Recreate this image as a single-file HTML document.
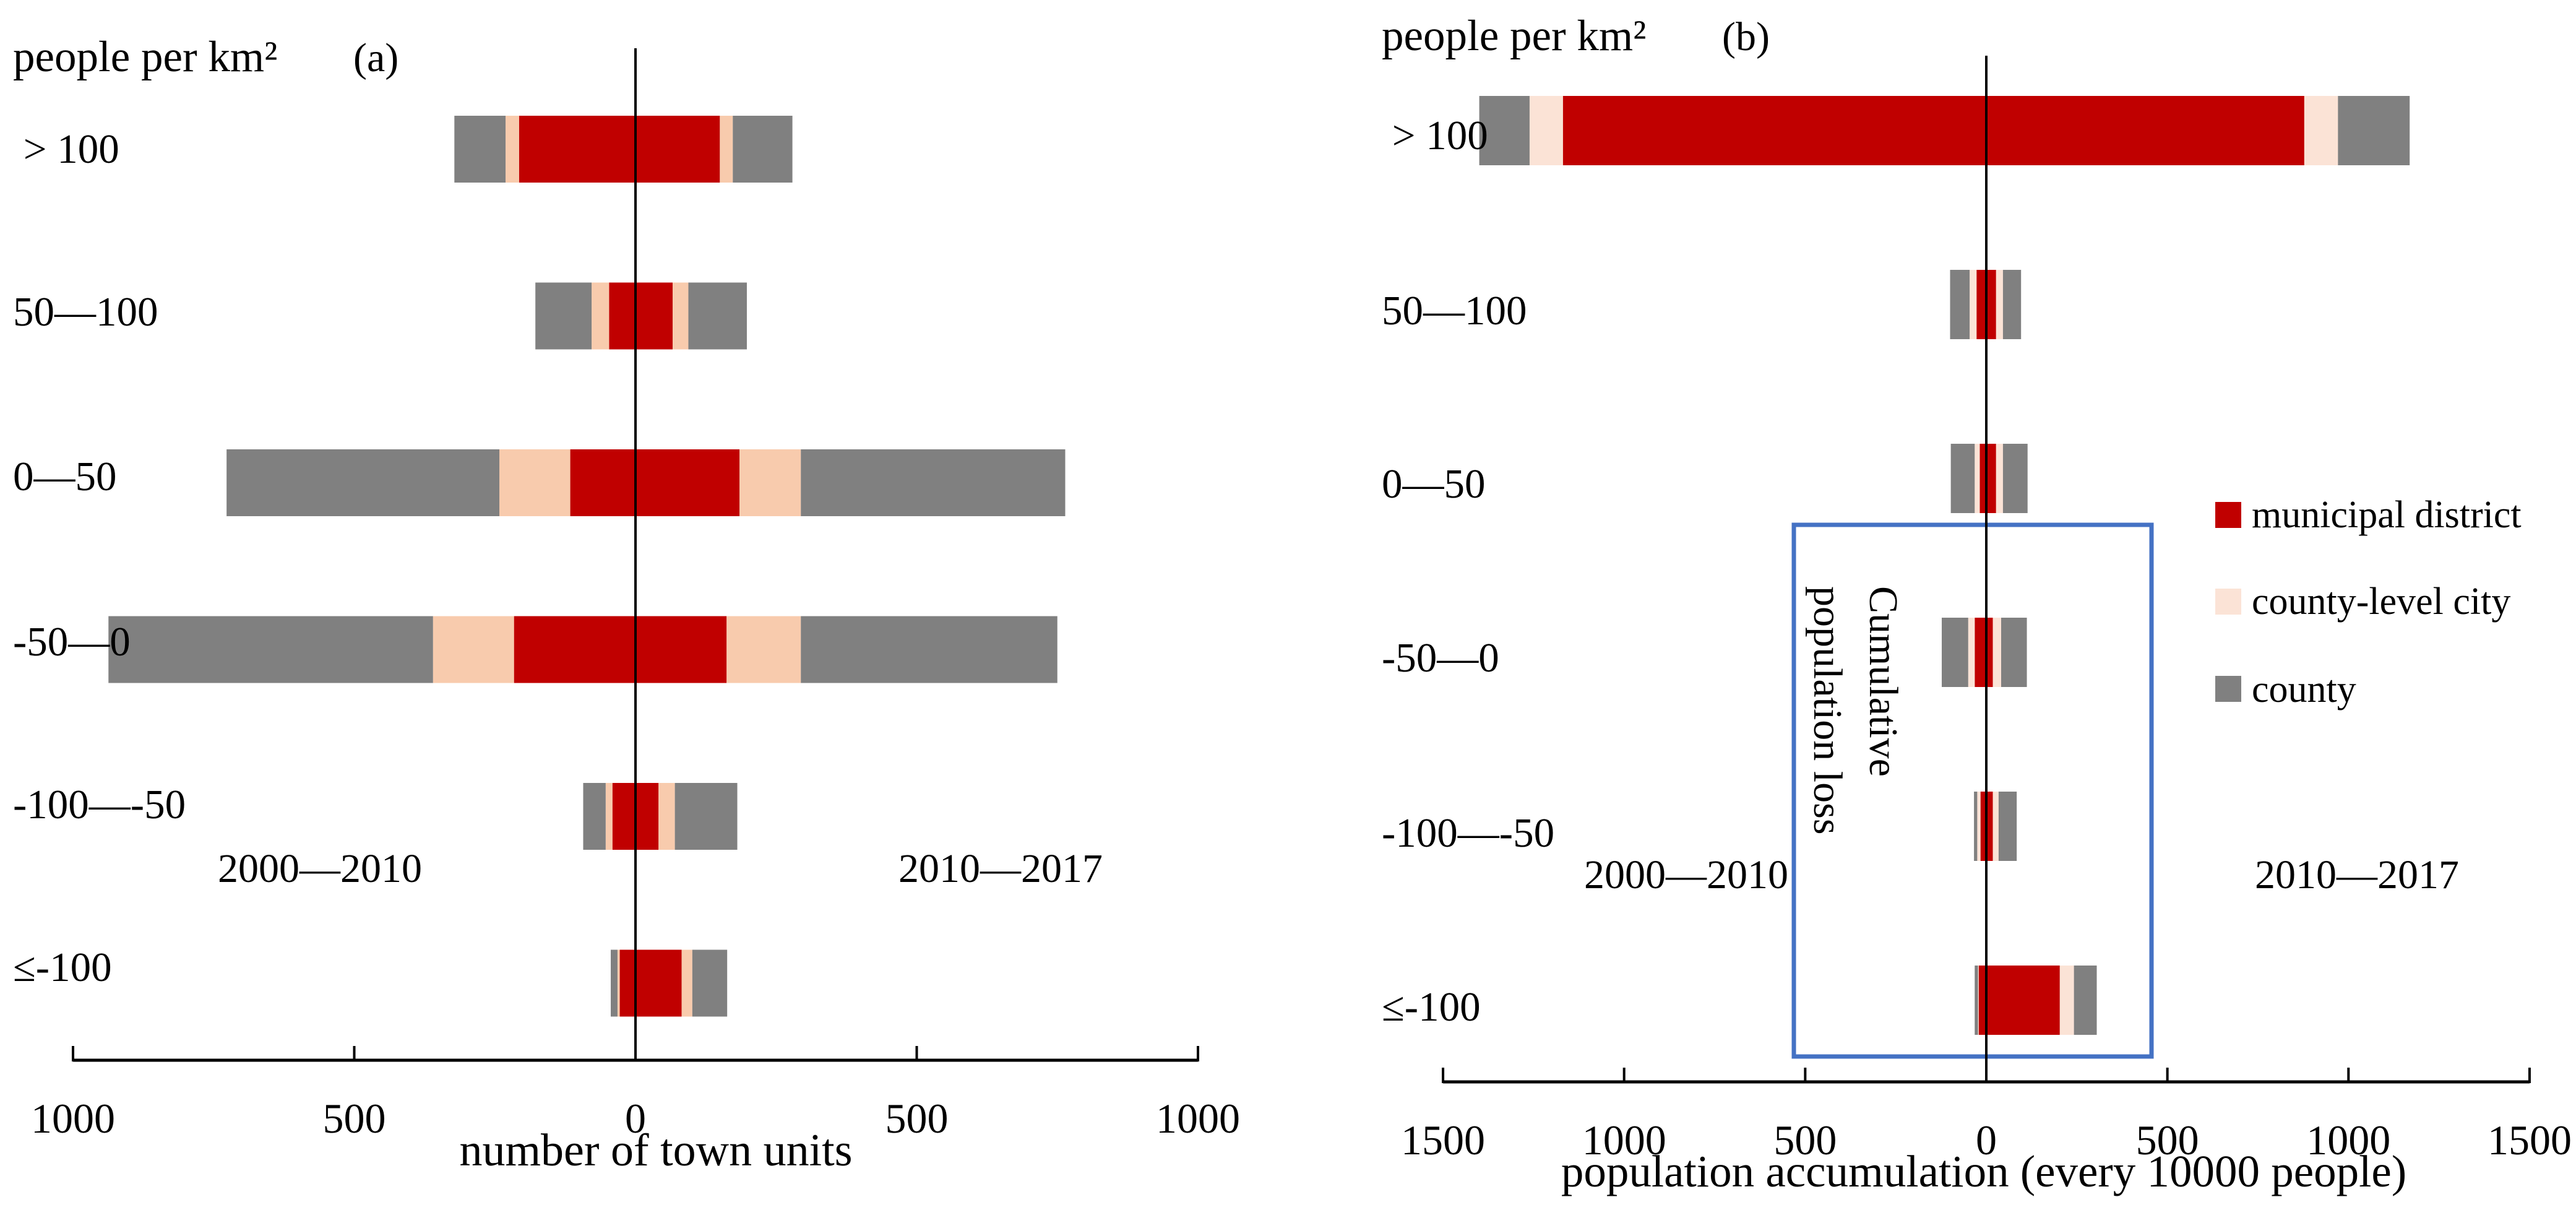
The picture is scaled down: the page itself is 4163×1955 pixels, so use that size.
<!DOCTYPE html>
<html><head><meta charset="utf-8"><style>
html,body{margin:0;padding:0;background:#fff}
svg{display:block}
text{font-family:"Liberation Serif",serif;fill:#000}
</style></head><body>
<svg id="chart" width="4163" height="1955" viewBox="0 0 4163 1955" xmlns="http://www.w3.org/2000/svg">
<g>
<text x="21" y="115" font-size="71">people per km²</text>
<text x="571" y="115" font-size="66">(a)</text>
<text x="352" y="1425" font-size="66">2000—2010</text>
<text x="1452" y="1425" font-size="66">2010—2017</text>
<text x="1060" y="1883" font-size="74" text-anchor="middle">number of town units</text>
</g>
<g>
<text x="2233" y="81" font-size="71">people per km²</text>
<text x="2783" y="81" font-size="66">(b)</text>
<text x="2560" y="1435" font-size="66">2000—2010</text>
<text x="3644" y="1435" font-size="66">2010—2017</text>
<text x="3206" y="1917" font-size="73" text-anchor="middle">population accumulation (every 10000 people)</text>
<rect x="2899" y="848" width="578" height="859" fill="none" stroke="#4472c4" stroke-width="7"/>
<text transform="translate(3022,947) rotate(90)" font-size="66">Cumulative</text>
<text transform="translate(2932,947) rotate(90)" font-size="66">population loss</text>
<rect x="3580" y="811" width="42" height="42" fill="#c00000"/>
<text x="3639" y="852" font-size="62">municipal district</text>
<rect x="3580" y="951" width="42" height="42" fill="#fbe3d6"/>
<text x="3639" y="992" font-size="62">county-level city</text>
<rect x="3580" y="1092" width="42" height="42" fill="#808080"/>
<text x="3639" y="1134" font-size="62">county</text>
</g>
</svg>
<script>
const categories = ["> 100", "50—100", "0—50", "-50—0", "-100—-50", "≤-100"];
// panel a: number of town units
const aLeftMunicipal = [207, 47, 116, 216, 41, 28];
const aLeftCity = [24, 31, 126, 144, 12, 4];
const aLeftCounty = [91, 100, 485, 577, 40, 12];
const aRightMunicipal = [150, 66, 185, 162, 41, 82];
const aRightCity = [23, 28, 109, 132, 29, 19];
const aRightCounty = [106, 104, 470, 456, 111, 62];
const aTicks = [1000, 500, 0, 500, 1000];
// panel b: population accumulation
const bLeftMunicipal = [1169, 27, 18, 32, 16, 21];
const bLeftCity = [92, 19, 14, 18, 9, 2];
const bLeftCounty = [139, 54, 66, 73, 9, 9];
const bRightMunicipal = [878, 27, 27, 18, 18, 203];
const bRightCity = [93, 19, 19, 23, 16, 39];
const bRightCounty = [198, 50, 68, 71, 50, 63];
const bTicks = [1500, 1000, 500, 0, 500, 1000, 1500];

const NS = "http://www.w3.org/2000/svg";
const svg = document.getElementById("chart");
function mk(tag, attrs, parent) {
  const e = document.createElementNS(NS, tag);
  for (const k in attrs) e.setAttribute(k, attrs[k]);
  (parent || svg).appendChild(e);
  return e;
}
function drawPanel(cfg) {
  const g = mk("g", {});
  
  
  const xs = v => cfg.x0 + v * cfg.k;
  const yRow = i => cfg.rowTop + i * cfg.rowStep;
  const colors = ["#c00000", cfg.cityColor, "#808080"];
  const names = ["municipal-district", "county-level-city", "county"];
  categories.forEach((c, i) => {
    const L = [cfg.lm[i], cfg.lc[i], cfg.lco[i]];
    const R = [cfg.rm[i], cfg.rc[i], cfg.rco[i]];
    let acc = 0;
    L.forEach((v, j) => {
      const r = mk("rect", {x: xs(-(acc + v)), y: yRow(i), width: v * cfg.k, height: cfg.barH, fill: colors[j]}, g);
      
      
      acc += v;
    });
    acc = 0;
    R.forEach((v, j) => {
      const r = mk("rect", {x: xs(acc), y: yRow(i), width: v * cfg.k, height: cfg.barH, fill: colors[j]}, g);
      
      
      acc += v;
    });
    const t = mk("text", {x: cfg.labelX, y: cfg.labelBase[i], "font-size": 67});
    
    
    t.textContent = (i === 0 ? "\u00a0" : "") + c;
  });
  const cl = mk("line", {x1: xs(0), x2: xs(0), y1: cfg.clTop, y2: cfg.clBot, stroke: "#000", "stroke-width": 4});
  
  
  const n = cfg.ticks.length;
  const maxV = cfg.ticks[0];
  const ax = mk("line", {x1: xs(-maxV), x2: xs(maxV), y1: cfg.axisY, y2: cfg.axisY, stroke: "#000", "stroke-width": 5});
  
  
  cfg.ticks.forEach((tv, i) => {
    const v = -maxV + i * (2 * maxV / (n - 1));
    const tk = mk("line", {x1: xs(v), x2: xs(v), y1: cfg.axisY - 23, y2: cfg.axisY + 2, stroke: "#000", "stroke-width": 4});
    
    
    const tl = mk("text", {x: xs(v), y: cfg.tickBase, "font-size": 68, "text-anchor": "middle"});
    
    
    tl.textContent = tv;
  });
}
drawPanel({name: "panel-a", x0: 1027, k: 0.909, rowTop: 187, rowStep: 269.5, barH: 108,
  lm: aLeftMunicipal, lc: aLeftCity, lco: aLeftCounty, rm: aRightMunicipal, rc: aRightCity, rco: aRightCounty,
  cityColor: "#f8cbad", ticks: aTicks, axisY: 1713, tickBase: 1830, clTop: 78, clBot: 1710,
  labelX: 21, labelBase: [263, 526, 792, 1059, 1322, 1585]});
drawPanel({name: "panel-b", x0: 3210, k: 0.5853, rowTop: 155, rowStep: 281, barH: 112,
  lm: bLeftMunicipal, lc: bLeftCity, lco: bLeftCounty, rm: bRightMunicipal, rc: bRightCity, rco: bRightCounty,
  cityColor: "#fbe3d6", ticks: bTicks, axisY: 1748, tickBase: 1865, clTop: 90, clBot: 1745,
  labelX: 2233, labelBase: [241, 524, 804, 1085, 1368, 1649]});
</script>
</body></html>
